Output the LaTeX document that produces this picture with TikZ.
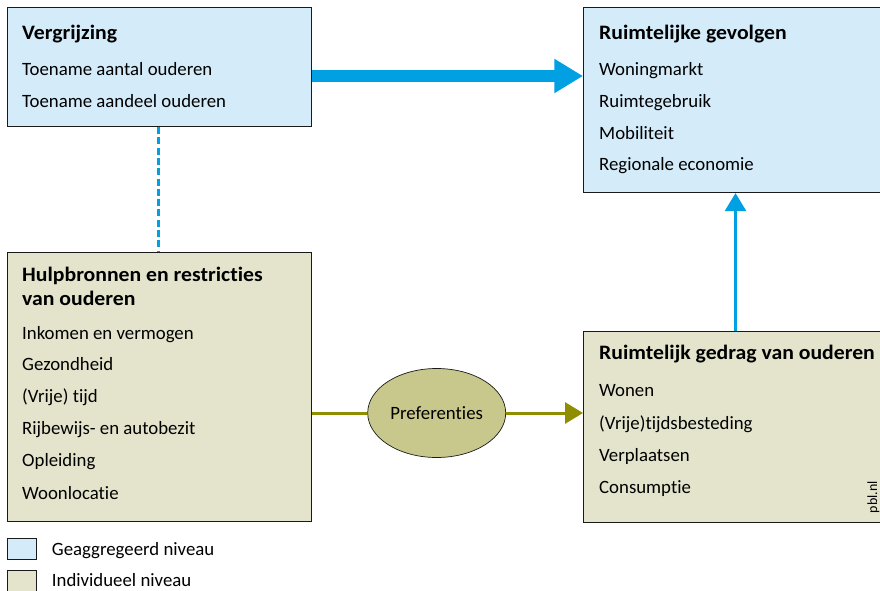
\documentclass[tikz,border=0pt]{standalone}
\usepackage{fontspec}
\setmainfont[Ligatures={NoCommon}]{Carlito}
\newfontfamily\titlefont[Ligatures={NoCommon}, FakeStretch=1.06]{Carlito Bold}
\usetikzlibrary{arrows.meta,shapes.geometric}
\definecolor{aggblue}{HTML}{D4EBF9}
\definecolor{indbeige}{HTML}{E4E4CD}
\definecolor{arrowblue}{HTML}{00A0E3}
\definecolor{olivearrow}{HTML}{8E8E00}
\definecolor{ellfill}{HTML}{C8C88C}
\definecolor{edgecol}{HTML}{1A1A1A}
\begin{document}
\begin{tikzpicture}[x=1pt,y=-1pt,
  box/.style={draw=edgecol, line width=1pt, inner sep=0pt, anchor=north west},
  titletext/.style={anchor=base west, inner sep=0pt, font=\fontsize{20.5}{24}\titlefont},
  itemtext/.style={anchor=base west, inner sep=0pt, font=\fontsize{18.8}{22}\selectfont},
  legendbox/.style={draw=edgecol, line width=0.8pt, inner sep=0pt, anchor=north west, minimum width=28.7pt, minimum height=21pt},
]
\useasboundingbox (0,0) rectangle (880,591);
\clip (0,0) rectangle (880,591);

% boxes
\node[box, fill=aggblue, minimum width=304pt, minimum height=119pt] (verg) at (7,7) {};
\node[box, fill=aggblue, minimum width=320pt, minimum height=185pt] (gev) at (583,7) {};
\node[box, fill=indbeige, minimum width=304pt, minimum height=269pt] (hulp) at (7,252) {};
\node[box, fill=indbeige, minimum width=320pt, minimum height=191pt] (gedrag) at (583,330.5) {};

% texts: Vergrijzing
\node[titletext] (t1) at (22,39.5) {Vergrijzing};
\node[itemtext] (t1a) at (22,76) {Toename aantal ouderen};
\node[itemtext] (t1b) at (22,108) {Toename aandeel ouderen};

% Ruimtelijke gevolgen
\node[titletext] (t2) at (599,39.5) {Ruimtelijke gevolgen};
\node[itemtext] (t2a) at (599,76) {Woningmarkt};
\node[itemtext] (t2b) at (599,107.5) {Ruimtegebruik};
\node[itemtext] (t2c) at (599,139.3) {Mobiliteit};
\node[itemtext] (t2d) at (599,170.7) {Regionale economie};

% Hulpbronnen
\node[titletext] (t3) at (22,281) {Hulpbronnen en restricties};
\node[titletext] (t3x) at (22,305.3) {van ouderen};
\node[itemtext] (t3a) at (22,339) {Inkomen en vermogen};
\node[itemtext] (t3b) at (22,370.7) {Gezondheid};
\node[itemtext] (t3c) at (22,402.3) {(Vrije) tijd};
\node[itemtext] (t3d) at (22,434) {Rijbewijs- en autobezit};
\node[itemtext] (t3e) at (22,466) {Opleiding};
\node[itemtext] (t3f) at (22,499.3) {Woonlocatie};

% Ruimtelijk gedrag
\node[titletext] (t4) at (599,359.3) {Ruimtelijk gedrag van ouderen};
\node[itemtext] (t4a) at (599,396.7) {Wonen};
\node[itemtext] (t4b) at (599,429.3) {(Vrije)tijdsbesteding};
\node[itemtext] (t4c) at (599,461) {Verplaatsen};
\node[itemtext] (t4d) at (599,493.3) {Consumptie};

% pbl.nl
\node[rotate=90, anchor=base, inner sep=0pt, font=\fontsize{14}{16}\selectfont] (pbl) at (877,497) {pbl.nl};

% Preferenties ellipse
\node[ellipse, draw=edgecol, line width=0.7pt, fill=ellfill, minimum width=138pt, minimum height=89pt, inner sep=0pt, font=\fontsize{18.8}{22}\selectfont] (pref) at (436.7,413) {Preferenties};

% connectors
\draw[arrowblue, line width=12.7pt, -{Triangle[length=28.7pt, width=32.4pt]}]
  ([yshift=-9pt]verg.east) -- ([yshift=-9pt]verg.east -| gev.west);
\draw[arrowblue, line width=2.7pt, dash pattern=on 7pt off 3.3pt]
  ([xshift=-0.7pt]verg.south) -- ([xshift=-0.7pt]hulp.north);
\draw[arrowblue, line width=3.3pt, -{Triangle[length=18pt, width=20.7pt]}]
  ([xshift=-8pt]gedrag.north) -- ([xshift=-8pt]gev.south);
\draw[olivearrow, line width=3pt] (pref.west -| hulp.east) -- (pref.west);
\draw[olivearrow, line width=3pt, -{Triangle[length=18pt, width=21pt]}] (pref.east) -- (pref.east -| gedrag.west);

% legend
\node[legendbox, fill=aggblue] (lg1) at (7.3,538.3) {};
\node[legendbox, fill=indbeige] (lg2) at (7.3,570) {};
\node[itemtext] (lg1t) at (51.7,555) {Geaggregeerd niveau};
\node[itemtext] (lg2t) at (51.7,586.7) {Individueel niveau};
\end{tikzpicture}
\end{document}
